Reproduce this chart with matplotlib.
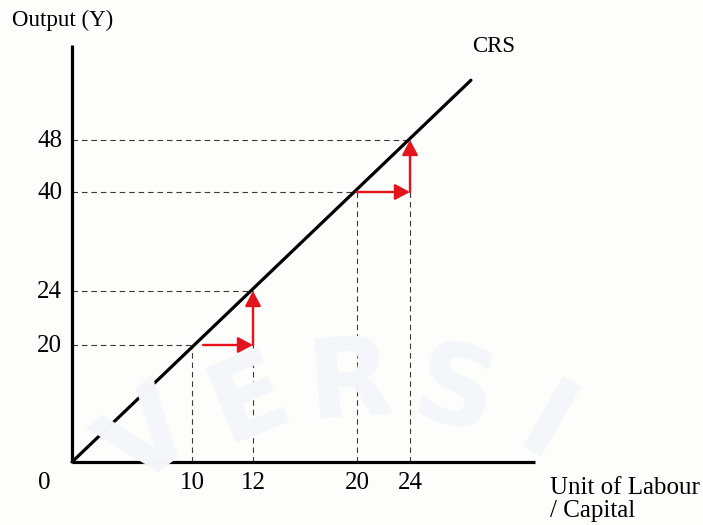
import numpy as np
import matplotlib
matplotlib.use("Agg")
from matplotlib import pyplot as plt

# data: constant returns to scale, Y = 2 * L
labour = [10, 12, 20, 24]
output = [20, 24, 40, 48]
steps = [(10, 20, 12, 24), (20, 40, 24, 48)]   # (L0, Y0, L1, Y1)
line_end = 28.6

# the drawing is schematic: tick spacing is not even, so map values to
# drawing units with a piecewise linear scale (pixels from the origin)
x_val = [-10, 0, 10, 12, 20, 24, 50]
x_px = [-120, 0, 120, 181, 285, 338, 682.5]
y_val = [-20, 0, 20, 24, 40, 48, 80]
y_px = [-117, 0, 117, 171, 270, 322, 530]

def fx(v):
    return np.interp(v, x_val, x_px)
def ix(p):
    return np.interp(p, x_px, x_val)
def fy(v):
    return np.interp(v, y_val, y_px)
def iy(p):
    return np.interp(p, y_px, y_val)

plt.rcParams['font.family'] = ['Liberation Serif', 'DejaVu Serif']

fig = plt.figure(figsize=(7.03, 5.25), dpi=100)
fig.patch.set_facecolor('#fdfdfb')
ax = fig.add_axes([0, 0, 1, 1])
ax.set_facecolor('none')
ax.set_xscale('function', functions=(fx, ix))
ax.set_yscale('function', functions=(fy, iy))
ax.set_xlim(ix(-72), ix(631))
ax.set_ylim(iy(-63), iy(462))
ax.axis('off')

# faint watermark
for ch, px, py, rot in [('V', 150, 440, 38), ('E', 250, 400, 22), ('R', 350, 385, 4),
                        ('S', 455, 395, -14), ('I', 545, 430, -30)]:
    fig.text(px / 703, 1 - py / 525, ch, fontsize=80, color='#f5f6f9',
             ha='center', va='center', rotation=rot, fontweight='bold',
             family='DejaVu Sans', zorder=0)

x_end = ix(463)
y_top = iy(417)

# axes
ax.plot([0, x_end], [0, 0], color='black', lw=2.3, solid_capstyle='butt', zorder=3)
ax.plot([0, 0], [0, y_top], color='black', lw=2.3, solid_capstyle='butt', zorder=3)

# CRS line
ax.plot([0, line_end], [0, 2 * line_end], color='black', lw=2.3,
        solid_capstyle='round', zorder=3)
ax.annotate('CRS', xy=(line_end, 2 * line_end), xytext=(16, 24),
            textcoords='offset points', ha='center', va='center', fontsize=16.5)

# guide lines
dash = (0, (5, 3.5))
for l, y in zip(labour, output):
    ax.plot([0, l], [y, y], color='#3a3a3a', lw=0.8, linestyle=dash, zorder=2)
    ax.plot([l, l], [0, y], color='#3a3a3a', lw=0.8, linestyle=dash, zorder=2)

# tick labels
for l in [0] + labour:
    dx = -20 if l == 0 else 0
    ax.annotate(str(l), xy=(l, 0), xytext=(dx, -15), textcoords='offset points',
                ha='center', va='center', fontsize=18)
for y in output:
    ax.annotate(str(y), xy=(0, y), xytext=(-7, -1), textcoords='offset points',
                ha='right', va='center', fontsize=18)

ax.annotate('Output (Y)', xy=(0, y_top), xytext=(-43, 18), textcoords='offset points',
            ha='left', va='center', fontsize=16.5)
ax.annotate('Unit of Labour\n/ Capital', xy=(x_end, 0), xytext=(11, -27),
            textcoords='offset points', ha='left', va='center', fontsize=18,
            linespacing=1.05)

# red step arrows
red = '#e3141b'
arrow = dict(arrowstyle='-|>,head_length=0.45,head_width=0.24', color=red,
             lw=1.7, mutation_scale=20, shrinkB=0)
for i, (l0, y0, l1, y1) in enumerate(steps):
    gap = 8 if i == 0 else 0
    ax.annotate('', xy=(l1, y0), xytext=(l0, y0),
                arrowprops=dict(arrow, shrinkA=gap), zorder=4)
    ax.annotate('', xy=(l1, y1), xytext=(l1, y0),
                arrowprops=dict(arrow, shrinkA=0), zorder=4)

fig.savefig('out.png', dpi=100, facecolor=fig.get_facecolor())
